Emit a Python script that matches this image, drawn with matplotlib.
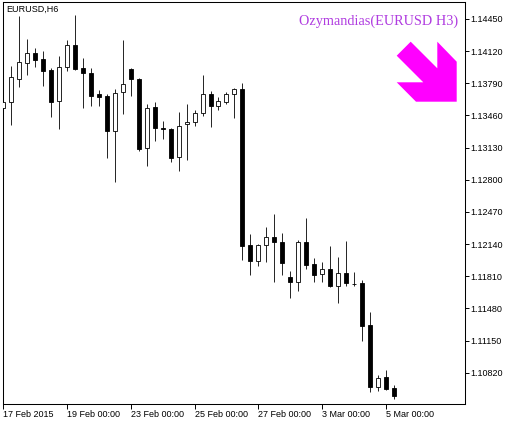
import numpy as np
import matplotlib
matplotlib.use("Agg")
import matplotlib.pyplot as plt
from matplotlib.patches import Polygon

# --- EURUSD H6 candles ---
opens = [1.13533, 1.13595, 1.13838, 1.13998, 1.14101, 1.14039, 1.13927, 1.13605, 1.13954, 1.14183,
         1.13947, 1.13896, 1.13680, 1.13660, 1.13304, 1.13697, 1.13937, 1.13834, 1.13123, 1.13547,
         1.13335, 1.13321, 1.13030, 1.13369, 1.13390, 1.13482, 1.13677, 1.13561, 1.13595, 1.13677,
         1.13728, 1.12127, 1.11970, 1.12127, 1.12209, 1.12158, 1.11799, 1.11754, 1.12158, 1.11932,
         1.11830, 1.11881, 1.11713, 1.11840, 1.11730, 1.11737, 1.11306, 1.10677, 1.10772, 1.10663]
highs = [1.13602, 1.13968, 1.14484, 1.14245, 1.14152, 1.14122, 1.13944, 1.14070, 1.14234, 1.14491,
         1.14050, 1.13947, 1.13721, 1.13680, 1.13728, 1.14234, 1.13951, 1.13841, 1.13578, 1.13598,
         1.13403, 1.13328, 1.13496, 1.13578, 1.13516, 1.13875, 1.13711, 1.13646, 1.13701, 1.13745,
         1.13790, 1.12243, 1.12141, 1.12315, 1.12449, 1.12250, 1.11864, 1.12178, 1.12408, 1.11994,
         1.11953, 1.12120, 1.12007, 1.12172, 1.11853, 1.11771, 1.11440, 1.10796, 1.10848, 1.10694]
lows = [1.13526, 1.13362, 1.13756, 1.13879, 1.13961, 1.13766, 1.13448, 1.13324, 1.13920, 1.13927,
        1.13540, 1.13557, 1.13557, 1.13027, 1.12781, 1.13478, 1.13663, 1.13099, 1.12945, 1.13201,
        1.13222, 1.12986, 1.12893, 1.13003, 1.13352, 1.13455, 1.13345, 1.13516, 1.13574, 1.13437,
        1.11977, 1.11823, 1.11915, 1.11960, 1.11754, 1.11823, 1.11590, 1.11662, 1.11881, 1.11754,
        1.11754, 1.11703, 1.11539, 1.11713, 1.11713, 1.11149, 1.10619, 1.10636, 1.10642, 1.10550]
closes = [1.13595, 1.13851, 1.14009, 1.14101, 1.14033, 1.13920, 1.13602, 1.13954, 1.14183, 1.13937,
          1.13892, 1.13663, 1.13653, 1.13304, 1.13687, 1.13780, 1.13831, 1.13116, 1.13533, 1.13335,
          1.13318, 1.13020, 1.13352, 1.13393, 1.13482, 1.13677, 1.13561, 1.13608, 1.13677, 1.13732,
          1.12123, 1.11970, 1.12127, 1.12209, 1.12158, 1.11949, 1.11754, 1.12158, 1.11929, 1.11819,
          1.11881, 1.11710, 1.11840, 1.11744, 1.11727, 1.11303, 1.10677, 1.10762, 1.10653, 1.10584]

date_ticks = [0, 8, 16, 24, 32, 40, 48]
date_labels = ["17 Feb 2015", "19 Feb 00:00", "23 Feb 00:00", "25 Feb 00:00",
               "27 Feb 00:00", "3 Mar 00:00", "5 Mar 00:00"]
price_ticks = [1.10820, 1.11150, 1.11480, 1.11810, 1.12140, 1.12470,
               1.12800, 1.13130, 1.13460, 1.13790, 1.14120, 1.14450]

symbol_label = "EURUSD,H6"
indicator_label = "Ozymandias(EURUSD H3)"

W, H = 516, 424
plt.rcParams["font.family"] = ["Liberation Sans", "DejaVu Sans"]

fig = plt.figure(figsize=(W / 100, H / 100), dpi=100)
# plot area in pixels: x 2.5..464.5, y 1.5..404.3 (from top)
ax = fig.add_axes([2.5 / W, (H - 404.3) / H, 462 / W, (404.3 - 1.5) / H])

o = np.array(opens)
c = np.array(closes)
x = np.arange(len(o))
bull = c >= o

# wicks first, bodies on top
ax.vlines(x, lows, highs, color="black", lw=0.6, zorder=2)
ax.bar(x, np.abs(c - o), bottom=np.minimum(o, c), width=0.5,
       color=["white" if b else "black" for b in bull], edgecolor="black",
       linewidth=0.6, zorder=3)

ax.set_xlim(-0.1, 57.87)
ax.set_ylim(1.104957, 1.146296)

ax.yaxis.tick_right()
ax.set_yticks(price_ticks)
ax.set_yticklabels([f"{p:.5f}" for p in price_ticks])
ax.tick_params(axis="y", direction="out", length=3, width=0.7, pad=1.5,
               labelsize=6.5, colors="black")
ax.set_xticks(date_ticks)
ax.set_xticklabels(date_labels)
ax.tick_params(axis="x", direction="out", length=3.6, width=0.7, pad=0.3,
               labelsize=6.5, colors="black")
for lab in ax.get_xticklabels():
    lab.set_horizontalalignment("left")

for s in ax.spines.values():
    s.set_linewidth(0.75)
    s.set_color("black")

# labels on the chart
ax.text(0.009, 0.980, symbol_label, transform=ax.transAxes, fontsize=6.5,
        ha="left", va="center", color="black")
ax.text(0.986, 0.951, indicator_label, transform=ax.transAxes, fontsize=10.3,
        family=["Liberation Serif", "DejaVu Serif"], ha="right", va="center",
        color="#B03CE0")

# down-right signal arrow (pixel shape, top-left origin)
arrow_px = np.array([[410.7, 41.7], [437.3, 68.3], [437.3, 41.7], [456.7, 61.7],
                     [456.7, 101.7], [416.0, 101.7], [396.7, 82.3], [423.3, 82.3],
                     [396.7, 55.7]])
arrow_ax = np.column_stack([(arrow_px[:, 0] - 2.5) / 462,
                            1 - (arrow_px[:, 1] - 1.5) / 402.8])
ax.add_patch(Polygon(arrow_ax, closed=True, transform=ax.transAxes,
                     facecolor="#FF00FF", edgecolor="none", zorder=5))

fig.savefig("out.png", dpi=100, facecolor="white")
